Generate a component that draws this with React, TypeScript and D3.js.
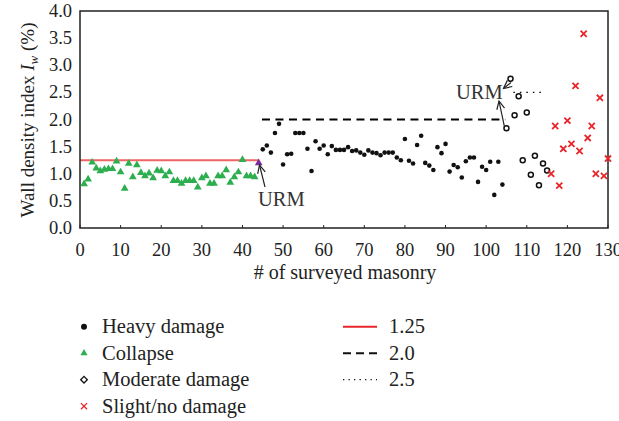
import React from "react";
import * as d3 from "d3";

const collapseX = Array.from({ length: 43 }, (_, i) => i + 1);
const collapseY = [0.81, 0.9, 1.21, 1.1, 1.05, 1.08, 1.09, 1.09, 1.23, 1.03, 0.73, 1.19, 0.94, 1.16, 1.02, 0.96, 1.01, 0.92, 1.06, 1.05, 0.96, 1.03, 0.87, 0.87, 0.82, 0.87, 0.87, 0.87, 0.75, 0.92, 0.96, 0.82, 0.82, 0.96, 0.96, 1.07, 0.84, 0.94, 1.03, 1.26, 0.96, 0.96, 0.94];
const urmCollapse = { x: 44, y: 1.2 };
const heavyX = Array.from({ length: 60 }, (_, i) => i + 45);
const heavyY = [1.45, 1.52, 1.39, 1.75, 1.92, 1.17, 1.36, 1.37, 1.75, 1.75, 1.75, 1.46, 1.05, 1.6, 1.46, 1.52, 1.36, 1.51, 1.44, 1.44, 1.44, 1.49, 1.42, 1.43, 1.39, 1.35, 1.43, 1.39, 1.38, 1.34, 1.39, 1.39, 1.39, 1.3, 1.25, 1.64, 1.24, 1.19, 1.53, 1.7, 1.2, 1.15, 1.07, 1.49, 1.38, 1.55, 1.04, 1.16, 1.12, 0.93, 1.23, 1.3, 1.3, 0.85, 1.13, 1.07, 1.22, 0.61, 1.22, 0.8];
const moderateX = [105, 106, 107, 108, 109, 110, 111, 112, 113, 114, 115];
const moderateY = [1.84, 2.75, 2.08, 2.43, 1.25, 2.13, 0.98, 1.33, 0.79, 1.19, 1.06];
const slightX = [116, 117, 118, 119, 120, 121, 122, 123, 124, 125, 126, 127, 128, 129, 130];
const slightY = [1.0, 1.88, 0.78, 1.46, 1.98, 1.55, 2.62, 1.42, 3.58, 1.66, 1.88, 1.0, 2.4, 0.96, 1.28];
const xTicks = [0, 10, 20, 30, 40, 50, 60, 70, 80, 90, 100, 110, 120, 130];
const yTicks = [0, 0.5, 1, 1.5, 2, 2.5, 3, 3.5, 4];
const thresholdLines = [
  { value: 1.25, x0: 0, x1: 44, label: "1.25", dash: "none" },
  { value: 2.0, x0: 44.8, x1: 104.7, label: "2.0", dash: "8,5.5" },
  { value: 2.5, x0: 106.7, x1: 114.5, label: "2.5", dash: "1.5,5" },
];
const legendLeft = ["Heavy damage", "Collapse", "Moderate damage", "Slight/no damage"];

const FONT = "'Liberation Serif', 'DejaVu Serif', serif";
const GREEN = "#2DAE4F";
const RED = "#E8262A";

export default function App() {
  const x = d3.scaleLinear().domain([0, 130]).range([80, 608]);
  const y = d3.scaleLinear().domain([0, 4]).range([228, 11]);
  const tri = d3.symbol().type(d3.symbolTriangle).size(26)()!;
  const triL = d3.symbol().type(d3.symbolTriangle).size(22)()!;
  const cross = d3.symbol().type(d3.symbolX).size(26)()!;
  const diamond = d3.symbol().type(d3.symbolDiamond2).size(28)()!;

  const arrowHead = (tx: number, ty: number, fx: number, fy: number) => {
    const a = Math.atan2(fy - ty, fx - tx);
    const L = 9, s = 0.45;
    return `M${tx + L * Math.cos(a + s)},${ty + L * Math.sin(a + s)}L${tx},${ty}L${tx + L * Math.cos(a - s)},${ty + L * Math.sin(a - s)}`;
  };
  const arrows = [
    { fx: 265, fy: 187, tx: 259.5, ty: 165 },
    { fx: 504.5, fy: 127, tx: 499, ty: 101 },
    { fx: 511, fy: 82.5, tx: 503.5, ty: 88.5 },
  ];

  return (
    <svg width={619} height={421} style={{ position: "absolute", left: 0, top: 0, background: "#fff" }} fontFamily={FONT}>
      <rect x={0} y={0} width={619} height={421} fill="#fff" />
      {/* threshold lines */}
      <line x1={x(thresholdLines[0].x0)} x2={x(thresholdLines[0].x1)} y1={y(1.25)} y2={y(1.25)} stroke="#EF6464" strokeWidth={2} />
      <line x1={x(thresholdLines[1].x0)} x2={x(thresholdLines[1].x1)} y1={y(2)} y2={y(2)} stroke="#000" strokeWidth={2} strokeDasharray={thresholdLines[1].dash} />
      <line x1={x(thresholdLines[2].x0)} x2={x(thresholdLines[2].x1)} y1={y(2.5)} y2={y(2.5)} stroke="#000" strokeWidth={1.3} strokeDasharray={thresholdLines[2].dash} />
      {/* frame */}
      <rect x={80} y={11} width={528} height={217} fill="none" stroke="#222" strokeWidth={1.5} />
      {xTicks.map((t) => (
        <g key={t}>
          <line x1={x(t)} x2={x(t)} y1={228} y2={225} stroke="#222" strokeWidth={1} />
          <text x={x(t)} y={255.5} fontSize={18.5} textAnchor="middle" fill="#222">{t}</text>
        </g>
      ))}
      {yTicks.map((t) => (
        <text key={t} x={72} y={y(t) + 6} fontSize={18.5} textAnchor="end" fill="#222">{t.toFixed(1)}</text>
      ))}
      {/* points */}
      {collapseX.map((v, i) => (
        <path key={"c" + i} d={tri} transform={`translate(${x(v)},${y(collapseY[i])})`} fill={GREEN} />
      ))}
      <path d={tri} transform={`translate(${x(urmCollapse.x)},${y(urmCollapse.y)})`} fill="#7A2C9E" />
      {heavyX.map((v, i) => (
        <circle key={"h" + i} cx={x(v)} cy={y(heavyY[i])} r={2.3} fill="#111" />
      ))}
      {moderateX.map((v, i) => (
        <circle key={"m" + i} cx={x(v)} cy={y(moderateY[i])} r={2.5} fill="#fff" stroke="#111" strokeWidth={1.5} />
      ))}
      {slightX.map((v, i) => (
        <path key={"s" + i} d={cross} transform={`translate(${x(v)},${y(slightY[i])})`} fill="none" stroke={RED} strokeWidth={1.8} />
      ))}
      {/* annotations */}
      {arrows.map((a, i) => (
        <g key={"a" + i} stroke="#222" strokeWidth={1.2} fill="none">
          <line x1={a.fx} y1={a.fy} x2={a.tx} y2={a.ty} />
          <path d={arrowHead(a.tx, a.ty, a.fx, a.fy)} />
        </g>
      ))}
      <text x={258} y={206} fontSize={20.5} fill="#333">URM</text>
      <text x={456} y={98.5} fontSize={20.5} fill="#333">URM</text>
      {/* axis titles */}
      <text x={345} y={279} fontSize={20} textAnchor="middle" fill="#222"># of surveyed masonry</text>
      <text transform="translate(34,120) rotate(-90)" fontSize={19} textAnchor="middle" fill="#222">
        Wall density index <tspan fontStyle="italic">I</tspan>
        <tspan fontStyle="italic" fontSize={13} dy={4}>w</tspan>
        <tspan dy={-4}> (%)</tspan>
      </text>
      {/* legend */}
      {legendLeft.map((lab, i) => {
        const cy = 326.7 + i * 26.5;
        return (
          <g key={lab}>
            {i === 0 && <circle cx={84} cy={cy} r={3} fill="#111" />}
            {i === 1 && <path d={triL} transform={`translate(84,${cy})`} fill={GREEN} />}
            {i === 2 && <path d={diamond} transform={`translate(84,${cy})`} fill="none" stroke="#111" strokeWidth={1.3} />}
            {i === 3 && <path d={cross} transform={`translate(84,${cy})`} fill="none" stroke={RED} strokeWidth={1.3} />}
            <text x={102} y={cy + 6.5} fontSize={20.5} fill="#222">{lab}</text>
          </g>
        );
      })}
      {thresholdLines.map((t, i) => {
        const cy = 326.7 + i * 26.5;
        return (
          <g key={t.label}>
            <line x1={343} x2={377} y1={cy} y2={cy} stroke={i === 0 ? RED : "#111"} strokeWidth={i === 2 ? 1.3 : 2} strokeDasharray={i === 0 ? "none" : i === 1 ? "8,5" : "1.3,4.2"} />
            <text x={389} y={cy + 6.5} fontSize={20.5} fill="#222">{t.label}</text>
          </g>
        );
      })}
    </svg>
  );
}
